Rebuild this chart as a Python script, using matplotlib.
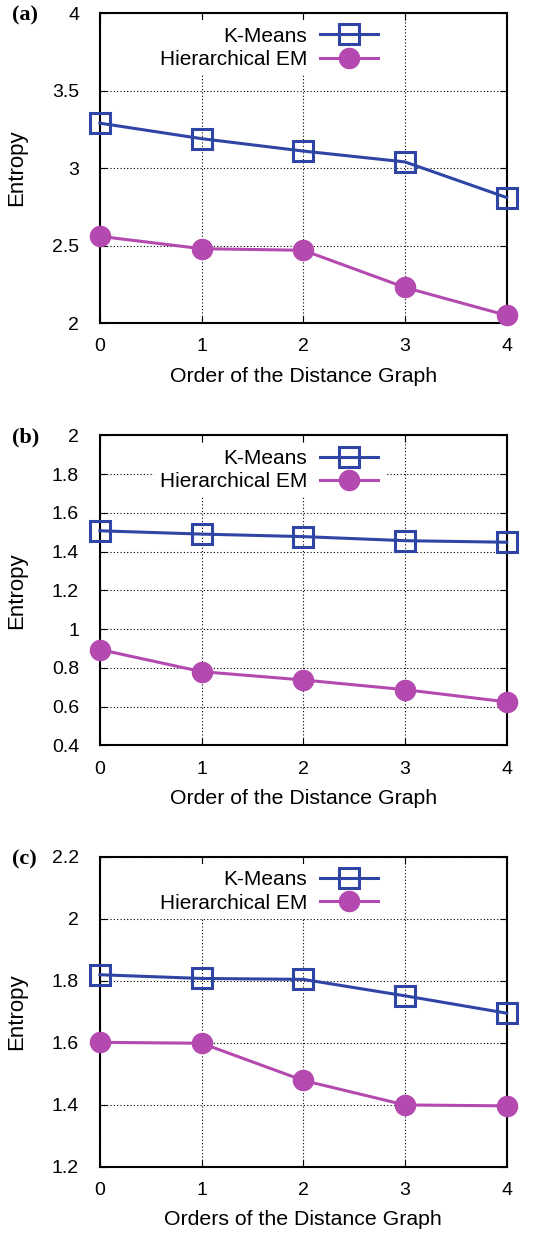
import matplotlib
matplotlib.use("Agg")
import matplotlib.pyplot as plt

plt.rcParams['font.family'] = ['Liberation Sans', 'DejaVu Sans']

# Dados
orders = [0, 1, 2, 3, 4]

kmeans_a = [3.29, 3.19, 3.11, 3.04, 2.81]
hem_a = [2.56, 2.48, 2.47, 2.23, 2.05]

kmeans_b = [1.507, 1.49, 1.477, 1.456, 1.448]
hem_b = [0.894, 0.78, 0.737, 0.687, 0.624]

kmeans_c = [1.82, 1.808, 1.805, 1.752, 1.696]
hem_c = [1.602, 1.599, 1.479, 1.40, 1.397]

panel_labels = ["(a)", "(b)", "(c)"]
xlabels = ["Order of the Distance Graph", "Order of the Distance Graph",
           "Orders of the Distance Graph"]
ylims = [(2, 4), (0.4, 2), (1.2, 2.2)]
yticks = [[2, 2.5, 3, 3.5, 4],
          [0.4, 0.6, 0.8, 1, 1.2, 1.4, 1.6, 1.8, 2],
          [1.2, 1.4, 1.6, 1.8, 2, 2.2]]

blue = "#2f45a6"
purple = "#b44ab0"

fig = plt.figure(figsize=(5.46, 12.38), dpi=100)

bottoms = [0.739, 0.398, 0.0574]
series = [(kmeans_a, hem_a), (kmeans_b, hem_b), (kmeans_c, hem_c)]

for k in range(3):
    ax = fig.add_axes([0.183, bottoms[k], 0.745, 0.2504])
    km, hem = series[k]
    ax.plot(orders, km, color=blue, lw=2.2, marker="s", ms=14,
            mfc="none", mew=2.2, label="K-Means", clip_on=False, zorder=3)
    ax.plot(orders, hem, color=purple, lw=2.2, marker="o", ms=14.5,
            label="Hierarchical EM", clip_on=False, zorder=3)

    ax.set_xlim(0, 4)
    ax.set_ylim(*ylims[k])
    ax.set_xticks(orders)
    ax.set_yticks(yticks[k])
    ax.set_yticklabels([f"{v:g}" for v in yticks[k]])
    ax.grid(True, linestyle=(0, (1, 2)), color="black", lw=0.8)
    ax.tick_params(direction="in", top=True, right=True, labelsize=14,
                   length=5)
    ax.tick_params(axis="y", pad=15)
    ax.tick_params(axis="x", pad=11)
    for s in ax.spines.values():
        s.set_linewidth(1.5)

    ax.set_xlabel(xlabels[k], fontsize=15.3)
    ax.set_ylabel("Entropy", fontsize=16)
    ax.xaxis.set_label_coords(0.5, -0.14)
    ax.yaxis.set_label_coords(-0.18, 0.5)

    leg = ax.legend(loc="upper right", bbox_to_anchor=(0.71, 0.99),
                    markerfirst=False, fontsize=15, frameon=True,
                    handlelength=2.8, borderpad=0.3, labelspacing=0.2,
                    handletextpad=0.6, borderaxespad=0.2)
    leg.get_frame().set_facecolor("white")
    leg.get_frame().set_edgecolor("none")
    leg.get_frame().set_alpha(1)
    leg.get_frame().set_boxstyle("square", pad=0)
    leg.set_zorder(5)

    fig.text(0.022, bottoms[k] + 0.2504 - 0.002, panel_labels[k],
             fontsize=16, fontweight="bold", family="Liberation Serif",
             va="center", ha="left")

fig.savefig("out.png", dpi=100)
